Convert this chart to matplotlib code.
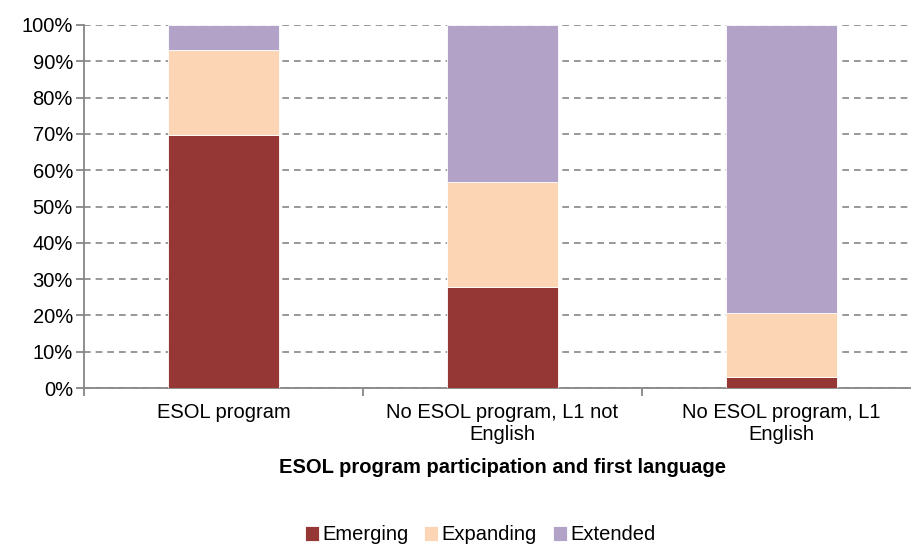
import matplotlib.pyplot as plt
import numpy as np
from matplotlib.ticker import PercentFormatter

# data (percent)
categories = ['ESOL program', 'No ESOL program, L1 not\nEnglish', 'No ESOL program, L1\nEnglish']
emerging = [69.7, 27.7, 3.0]
expanding = [23.4, 29.0, 17.6]
extended = [6.9, 43.3, 79.4]
series_names = ['Emerging', 'Expanding', 'Extended']
colours = ['#953735', '#FCD5B5', '#B3A2C7']

plt.rcParams['font.family'] = ['Liberation Sans', 'DejaVu Sans']

fig = plt.figure(figsize=(9.12, 5.45), dpi=100)
ax = fig.add_axes([84 / 912, 1 - 388 / 545, 837 / 912, 363 / 545])

x = np.arange(len(categories))
bottom = np.zeros(len(categories))
handles = []
for vals, name, col in zip([emerging, expanding, extended], series_names, colours):
    b = ax.bar(x, vals, width=0.4, bottom=bottom, color=col, label=name,
               edgecolor='white', linewidth=0.6, zorder=3)
    handles.append(b)
    bottom += np.array(vals)

ax.set_xlim(-0.5, len(categories) - 0.5)
ax.set_ylim(0, 100)
ax.set_yticks(np.arange(0, 101, 10))
ax.yaxis.set_major_formatter(PercentFormatter(decimals=0))
ax.yaxis.grid(True, linestyle=(0, (4, 3)), color='#868686', linewidth=1.2, zorder=0)

# category labels in the middle, ticks between categories
ax.set_xticks(x)
ax.set_xticklabels(categories, fontsize=14.5, linespacing=1.2)
ax.tick_params(axis='x', length=0, pad=11)
ax.set_xticks(np.arange(-0.5, len(categories), 1), minor=True)
ax.tick_params(axis='x', which='minor', length=6, color='#868686', width=1.3)
ax.tick_params(axis='y', length=6, color='#868686', width=1.3, labelsize=14.5, pad=2)

for s in ['top', 'right']:
    ax.spines[s].set_visible(False)
for s in ['left', 'bottom']:
    ax.spines[s].set_color('#868686')
    ax.spines[s].set_linewidth(1.3)

ax.set_xlabel('ESOL program participation and first language', fontsize=14.5,
              fontweight='bold', labelpad=10)

fig.legend(handles=handles, labels=series_names, loc='center',
           bbox_to_anchor=(480 / 912, 1 - 535 / 545), ncol=3, frameon=False,
           fontsize=14.5, handlelength=0.7, handleheight=0.7, handletextpad=0.15,
           columnspacing=0.8)

fig.savefig('out.png', dpi=100)
